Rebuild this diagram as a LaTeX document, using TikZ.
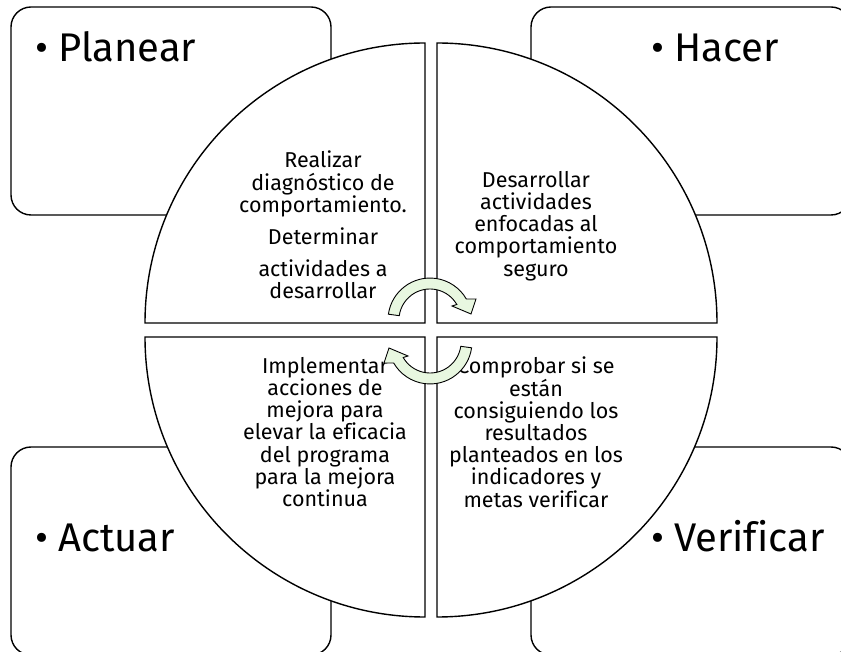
\documentclass[tikz,border=0pt]{standalone}
\usepackage{fontspec}
\setmainfont{Fira Sans}[Ligatures=CommonOff]
\usetikzlibrary{positioning}

\begin{document}
\begin{tikzpicture}[x=1pt, y=1pt]
  \tikzstyle{stagebox} = [rectangle, rounded corners=20pt, minimum width=320pt, minimum height=208pt, draw=black, line width=1.4pt, fill=white]
  \tikzstyle{stagelabel} = [anchor=base west, inner sep=0pt, font=\fontsize{40}{48}\selectfont]
  \tikzstyle{quadrant} = [draw=black, line width=1.4pt, fill=white]
  \tikzstyle{quadtext} = [anchor=north, inner sep=0pt, align=center, font=\fontsize{21.5}{22.2}\selectfont]
  \tikzstyle{cyclearrow} = [draw=black, line width=0.9pt, fill=green!50!olive!12, line join=miter]

  \useasboundingbox (0,0) rectangle (841,651);

  % Corner boxes
  \node (planear) at (171,540) [stagebox] {};
  \node (hacer) at (691,540) [stagebox] {};
  \node (actuar) at (171,100) [stagebox] {};
  \node (verificar) at (691,100) [stagebox] {};

  \node (planearlbl) at (35,589) [stagelabel] {\textbullet\hspace{10pt}Planear};
  \node (hacerlbl) at (651,589) [stagelabel] {\textbullet\hspace{10pt}Hacer};
  \node (actuarlbl) at (35,99) [stagelabel] {\textbullet\hspace{10pt}Actuar};
  \node (verificarlbl) at (651,99) [stagelabel] {\textbullet\hspace{10pt}Verificar};

  % Circle in four quarters
  \draw[quadrant] (425,328) -- (145,328) arc[start angle=180, end angle=90, radius=280] -- cycle;
  \draw[quadrant] (437,328) -- (437,608) arc[start angle=90, end angle=0, radius=280] -- cycle;
  \draw[quadrant] (425,314) -- (425,34) arc[start angle=270, end angle=180, radius=280] -- cycle;
  \draw[quadrant] (437,314) -- (717,314) arc[start angle=0, end angle=-90, radius=280] -- cycle;

  % Texts of the quarters
  \node (plantext) at (323,500) [quadtext] {Realizar\\diagnóstico de\\comportamiento.\\[10pt]Determinar\\[10pt]actividades a\\desarrollar};
  \node (hacetext) at (536,480) [quadtext] {Desarrollar\\actividades\\enfocadas al\\comportamiento\\seguro};
  \node (actutext) at (325,294) [quadtext] {Implementar\\acciones de\\mejora para\\elevar la eficacia\\del programa\\para la mejora\\continua};
  \node (veritext) at (536,294) [quadtext] {Comprobar si se\\están\\consiguiendo los\\resultados\\planteados en los\\indicadores y\\metas verificar};

  % Cycle arrows
  \coordinate (hub) at (430,320);
  \draw[cyclearrow, shift={(hub)}] (-41.6,16.8) arc[start angle=172, end angle=30, radius=42]
    -- (46,32) -- (41,17) -- (22,25) -- (26.8,26.5) arc[start angle=30, end angle=172, radius=31] -- cycle;
  \draw[cyclearrow, shift={(hub)}, rotate=180] (-41.6,16.8) arc[start angle=172, end angle=30, radius=42]
    -- (46,32) -- (41,17) -- (22,25) -- (26.8,26.5) arc[start angle=30, end angle=172, radius=31] -- cycle;
\end{tikzpicture}
\end{document}
